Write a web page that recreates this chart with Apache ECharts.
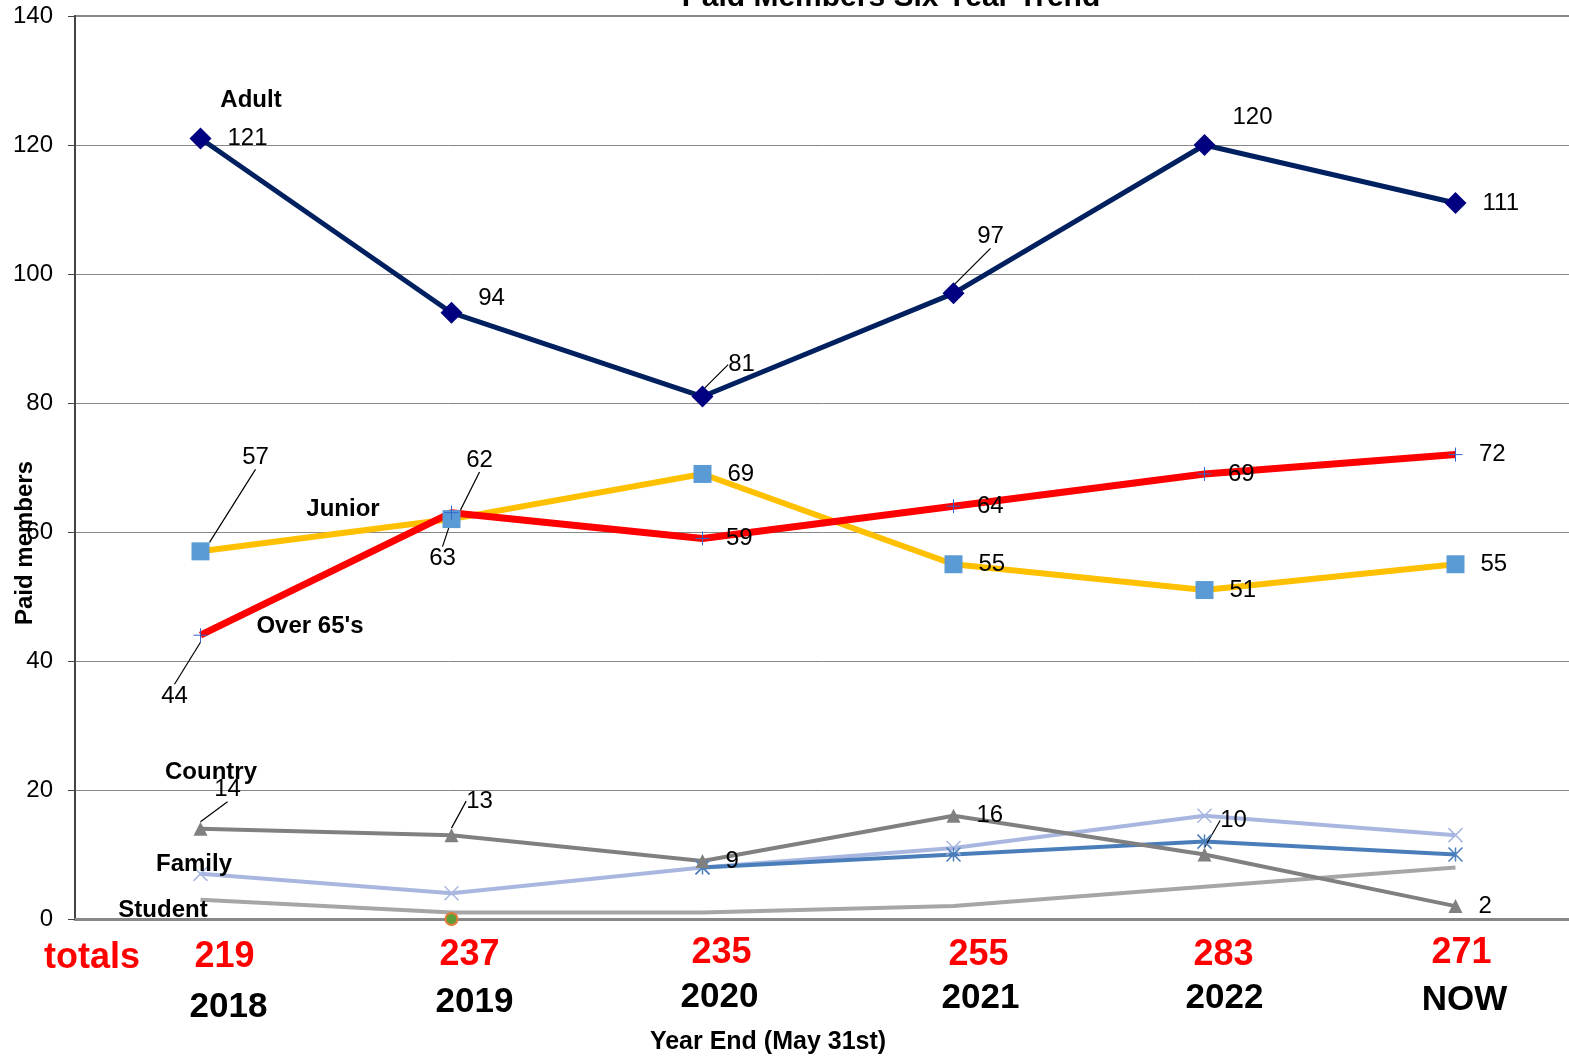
<!DOCTYPE html>
<html>
<head>
<meta charset="utf-8">
<script src="https://cdn.jsdelivr.net/npm/echarts@6/dist/echarts.min.js"></script>
<style>
  html, body { margin: 0; padding: 0; background: #fff; }
  #chart { width: 1569px; height: 1060px; }
</style>
</head>
<body>
<div id="chart"></div>
<script>
const years = ['2018', '2019', '2020', '2021', '2022', 'NOW']
const totals = [219, 237, 235, 255, 283, 271]
const adult = [121, 94, 81, 97, 120, 111]
const over65 = [44, 63, 59, 64, 69, 72]
const junior = [57, 62, 69, 55, 51, 55]
const country = [14, 13, 9, 16, 10, 2]
const family = [7, 4, 8, 11, 16, 13]
const familyPlus = [null, null, 8, 10, 12, 10]
const student = [3, 1, 1, 2, 5, 8]
const stray = [null, 0, null, null, null, null]

const FONT = '"Liberation Sans", Arial, sans-serif'

// where the moved labels sit, relative to their point (label centre)
const adultMoved = { 1: [40, -14], 2: [39, -32], 3: [37, -57], 4: [48, -28] }
const over65Moved = { 0: [-26, 61], 1: [-9, 46] }
const juniorMoved = { 0: [55, -94], 1: [28, -59] }
const countryMoved = { 0: [27, -39], 1: [28, -34], 4: [29, -34] }
const leaders = {
  Adult: [2, 3],
  "Over 65's": [0, 1],
  Junior: [0, 1],
  Country: [0, 1, 4]
}

function moveLabels(moved) {
  return function (p) {
    const o = moved[p.dataIndex]
    if (!o) return {}
    const r = p.rect
    return {
      x: r.x + r.width / 2 + o[0],
      y: r.y + r.height / 2 + o[1],
      align: 'center',
      verticalAlign: 'middle'
    }
  }
}

function withLeaders(name, values) {
  const idx = leaders[name] || []
  return values.map((v, i) => ({
    value: v,
    labelLine: { show: idx.indexOf(i) >= 0, lineStyle: { color: '#000', width: 1.2 } }
  }))
}

const valueLabel = {
  show: true,
  position: 'right',
  distance: 16,
  fontFamily: FONT,
  fontSize: 24,
  color: '#000'
}

const crossPath = 'path://M0,5L10,5M5,0L5,10'
const xPath = 'path://M0,0L10,10M10,0L0,10'
const starPath = 'path://M0,0L10,10M10,0L0,10M5,0L5,10'

const chart = echarts.init(document.getElementById('chart'))

const option = {
  animation: false,
  backgroundColor: '#fff',
  grid: {
    left: 75, top: 16, width: 1506, height: 903,
    outerBoundsMode: 'none', containLabel: false,
    show: true, borderColor: '#888', borderWidth: 2
  },
  xAxis: {
    type: 'category',
    data: years,
    boundaryGap: true,
    axisLine: { lineStyle: { color: '#888', width: 3 } },
    axisTick: { show: false },
    axisLabel: { show: false },
    splitLine: { show: false }
  },
  yAxis: {
    type: 'value',
    min: 0,
    max: 140,
    interval: 20,
    axisLine: { show: true, lineStyle: { color: '#444', width: 2 } },
    axisTick: { show: true, length: 7, lineStyle: { color: '#444' } },
    axisLabel: { fontFamily: FONT, fontSize: 24, color: '#000', margin: 22 },
    splitLine: { lineStyle: { color: '#888', width: 1 } }
  },
  series: [
    {
      name: 'Student', type: 'line', data: student,
      symbol: 'none',
      lineStyle: { color: '#A6A6A6', width: 4 },
      itemStyle: { color: '#A6A6A6' }
    },
    {
      name: 'Family', type: 'line', data: family,
      symbol: xPath, symbolSize: 14,
      lineStyle: { color: '#A9B7E0', width: 4 },
      itemStyle: { color: '#A9B7E0', borderColor: '#A9B7E0', borderWidth: 1.5 }
    },
    {
      name: 'Family+', type: 'line', data: familyPlus,
      symbol: starPath, symbolSize: 14,
      lineStyle: { color: '#4A7EBB', width: 4 },
      itemStyle: { color: '#4A7EBB', borderColor: '#4A7EBB', borderWidth: 1.5 }
    },
    {
      name: 'Country', type: 'line', data: withLeaders('Country', country),
      symbol: 'triangle', symbolSize: 14,
      lineStyle: { color: '#808080', width: 4 },
      itemStyle: { color: '#808080' },
      label: valueLabel,
      labelLayout: moveLabels(countryMoved)
    },
    {
      name: 'Junior', type: 'line', data: withLeaders('Junior', junior),
      symbol: 'rect', symbolSize: 18,
      lineStyle: { color: '#FFC000', width: 6 },
      itemStyle: { color: '#5B9BD5' },
      label: valueLabel,
      labelLayout: moveLabels(juniorMoved)
    },
    {
      name: "Over 65's", type: 'line', data: withLeaders("Over 65's", over65),
      symbol: crossPath, symbolSize: 14,
      lineStyle: { color: '#FF0000', width: 7 },
      itemStyle: { color: '#3366CC', borderColor: '#3366CC', borderWidth: 1 },
      label: valueLabel,
      labelLayout: moveLabels(over65Moved)
    },
    {
      name: 'Adult', type: 'line', data: withLeaders('Adult', adult),
      symbol: 'diamond', symbolSize: 22,
      lineStyle: { color: '#002060', width: 5 },
      itemStyle: { color: '#000080' },
      label: valueLabel,
      labelLayout: moveLabels(adultMoved)
    },
    {
      name: 'stray', type: 'line', data: stray,
      symbol: 'circle', symbolSize: 12, showAllSymbol: true,
      lineStyle: { width: 0 },
      itemStyle: { color: '#5E9E3A', borderColor: '#E07B39', borderWidth: 2 },
      clip: false, z: 5
    }
  ]
}

chart.setOption(option)

// text boxes placed by hand in the original sheet
const seriesNames = [
  ['Adult', 251, 100],
  ['Junior', 343, 509],
  ["Over 65's", 310, 626],
  ['Country', 211, 772],
  ['Family', 194, 864],
  ['Student', 163, 910]
]
const totalShift = [[24, 957], [18, 955], [19, 953], [25, 955], [19, 955], [6, 953]]
const yearShift = [[28, 1007], [23, 1002], [17, 997], [27, 998], [20, 998], [9, 1000]]

function txt(text, x, y, font, color, extra) {
  return Object.assign({
    type: 'text', x: x, y: y, z: 100,
    style: { text: text, font: font, fill: color || '#000', align: 'center', verticalAlign: 'middle' }
  }, extra || {})
}

const graphics = [
  txt('Paid Members Six Year Trend', 891, -2, 'bold 30px ' + FONT),
  txt('Paid members', 25, 543, 'bold 24px ' + FONT, '#000', { rotation: Math.PI / 2 }),
  txt('Year End (May 31st)', 768, 1042, 'bold 25px ' + FONT),
  txt('totals', 92, 958, 'bold 36px ' + FONT, '#FF0000')
]
seriesNames.forEach(s => graphics.push(txt(s[0], s[1], s[2], 'bold 24px ' + FONT)))
years.forEach((y, i) => {
  const px = chart.convertToPixel({ xAxisIndex: 0 }, y)
  graphics.push(txt(String(totals[i]), px + totalShift[i][0], totalShift[i][1], 'bold 36px ' + FONT, '#FF0000'))
  graphics.push(txt(y, px + yearShift[i][0], yearShift[i][1], 'bold 35px ' + FONT))
})

chart.setOption({ graphic: graphics })
</script>
</body>
</html>
